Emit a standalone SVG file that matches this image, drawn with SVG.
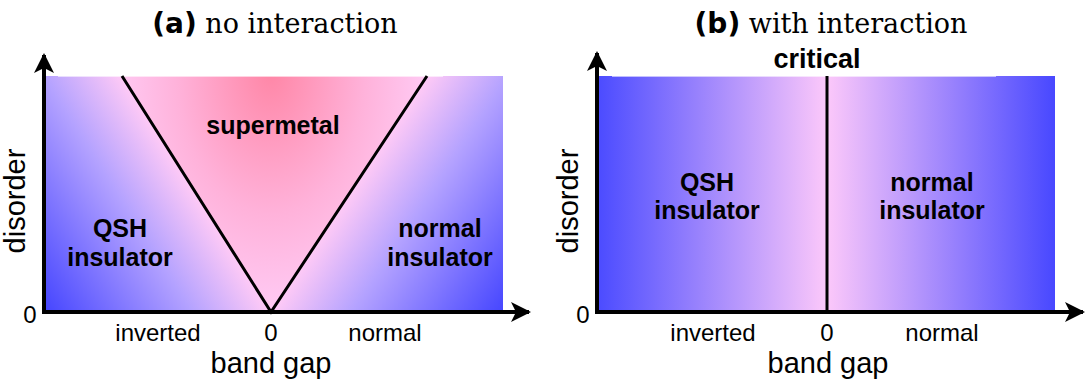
<svg xmlns="http://www.w3.org/2000/svg" width="1087" height="387" viewBox="0 0 1087 387">
<style>
.title-b{font-family:"DejaVu Sans",sans-serif;font-weight:bold;font-size:28px;fill:#000}
.title-r{font-family:"DejaVu Serif",serif;font-size:27px;fill:#000}
.lbl{font-family:"Liberation Sans",Arial,sans-serif;font-weight:bold;font-size:25px;fill:#000;text-anchor:middle}
.ax{font-family:"Liberation Sans",Arial,sans-serif;font-size:24px;fill:#000;text-anchor:middle}
.axt{font-family:"Liberation Sans",Arial,sans-serif;font-size:29px;fill:#000;text-anchor:middle}
.axis{stroke:#000;stroke-width:4;fill:none}
.bound{stroke:#000;stroke-width:3;fill:none}
</style>
<defs>
<marker id="arr" viewBox="0 0 10 10" refX="9" refY="5" markerWidth="5" markerHeight="5" orient="auto" markerUnits="strokeWidth">
<path d="M0,0 L10,5 L0,10 L2.5,5 Z" fill="#000"/>
</marker>
<linearGradient id="gL" gradientUnits="userSpaceOnUse" x1="271" y1="312" x2="110.3" y2="413.5">
<stop offset="0" stop-color="#ffcaf6"/>
<stop offset="0.35" stop-color="#b4a2ff"/>
<stop offset="1" stop-color="#4646ff"/>
</linearGradient>
<linearGradient id="gR" gradientUnits="userSpaceOnUse" x1="271" y1="312" x2="432.4" y2="418.7">
<stop offset="0" stop-color="#ffcaf6"/>
<stop offset="0.35" stop-color="#b4a2ff"/>
<stop offset="1" stop-color="#4646ff"/>
</linearGradient>
<radialGradient id="gM" gradientUnits="userSpaceOnUse" cx="271" cy="70" r="240" gradientTransform="translate(271 70) scale(0.65 1) translate(-271 -70)">
<stop offset="0" stop-color="#ff86a6"/>
<stop offset="0.6" stop-color="#ffb2da"/>
<stop offset="1" stop-color="#ffcaf4"/>
</radialGradient>
<linearGradient id="gB" gradientUnits="userSpaceOnUse" x1="599" y1="0" x2="1055" y2="0">
<stop offset="0" stop-color="#4c4cff"/>
<stop offset="0.5" stop-color="#fcc8fa"/>
<stop offset="1" stop-color="#4848ff"/>
</linearGradient>
</defs>

<g id="panel-a-background">
<polygon points="46,76 122,76 271,312 46,312" fill="url(#gL)"/>
<polygon points="427,76 503,76 503,312 271,312" fill="url(#gR)"/>
<polygon points="122,76 427,76 271,312" fill="url(#gM)"/>
<rect x="58" y="75" width="385" height="2" fill="#fff" opacity="0.6"/>
</g>
<g id="panel-b-background">
<rect x="599" y="76" width="456" height="236" fill="url(#gB)"/>
<rect x="612" y="75" width="384" height="2" fill="#fff" opacity="0.6"/>
</g>

<g id="titles">
<text x="275" y="33" text-anchor="middle"><tspan class="title-b">(a)</tspan><tspan class="title-r"> no interaction</tspan></text>
<text x="831" y="33" text-anchor="middle"><tspan class="title-b">(b)</tspan><tspan class="title-r"> with interaction</tspan></text>
</g>

<g id="connectors">
<line class="axis" x1="44" y1="313" x2="44" y2="55" marker-end="url(#arr)"/>
<line class="axis" x1="42" y1="312" x2="529" y2="312" marker-end="url(#arr)"/>
<line class="axis" x1="597" y1="313" x2="597" y2="53" marker-end="url(#arr)"/>
<line class="axis" x1="595" y1="312" x2="1083" y2="312" marker-end="url(#arr)"/>
<polyline class="bound" points="122,76 271,312 427,76"/>
<line class="bound" x1="827" y1="76" x2="827" y2="312"/>
</g>

<g id="node-supermetal"><text class="lbl" x="273" y="134">supermetal</text></g>
<g id="node-qsh-a"><text class="lbl" x="120" y="237">QSH</text><text class="lbl" x="120" y="266">insulator</text></g>
<g id="node-normal-a"><text class="lbl" x="440" y="237">normal</text><text class="lbl" x="440" y="266">insulator</text></g>
<g id="node-critical"><text class="lbl" x="817" y="68" style="font-size:27px">critical</text></g>
<g id="node-qsh-b"><text class="lbl" x="707" y="191">QSH</text><text class="lbl" x="707" y="219">insulator</text></g>
<g id="node-normal-b"><text class="lbl" x="932" y="191">normal</text><text class="lbl" x="932" y="219">insulator</text></g>

<g id="axis-labels-a">
<text class="axt" transform="translate(25 201) rotate(-90)">disorder</text>
<text class="ax" x="30" y="323">0</text>
<text class="ax" x="158" y="341">inverted</text>
<text class="ax" x="271" y="341">0</text>
<text class="ax" x="385" y="341">normal</text>
<text class="axt" x="271" y="373">band gap</text>
</g>
<g id="axis-labels-b">
<text class="axt" transform="translate(578 201) rotate(-90)">disorder</text>
<text class="ax" x="583" y="323">0</text>
<text class="ax" x="713" y="341">inverted</text>
<text class="ax" x="827" y="341">0</text>
<text class="ax" x="942" y="341">normal</text>
<text class="axt" x="828" y="373">band gap</text>
</g>
</svg>
